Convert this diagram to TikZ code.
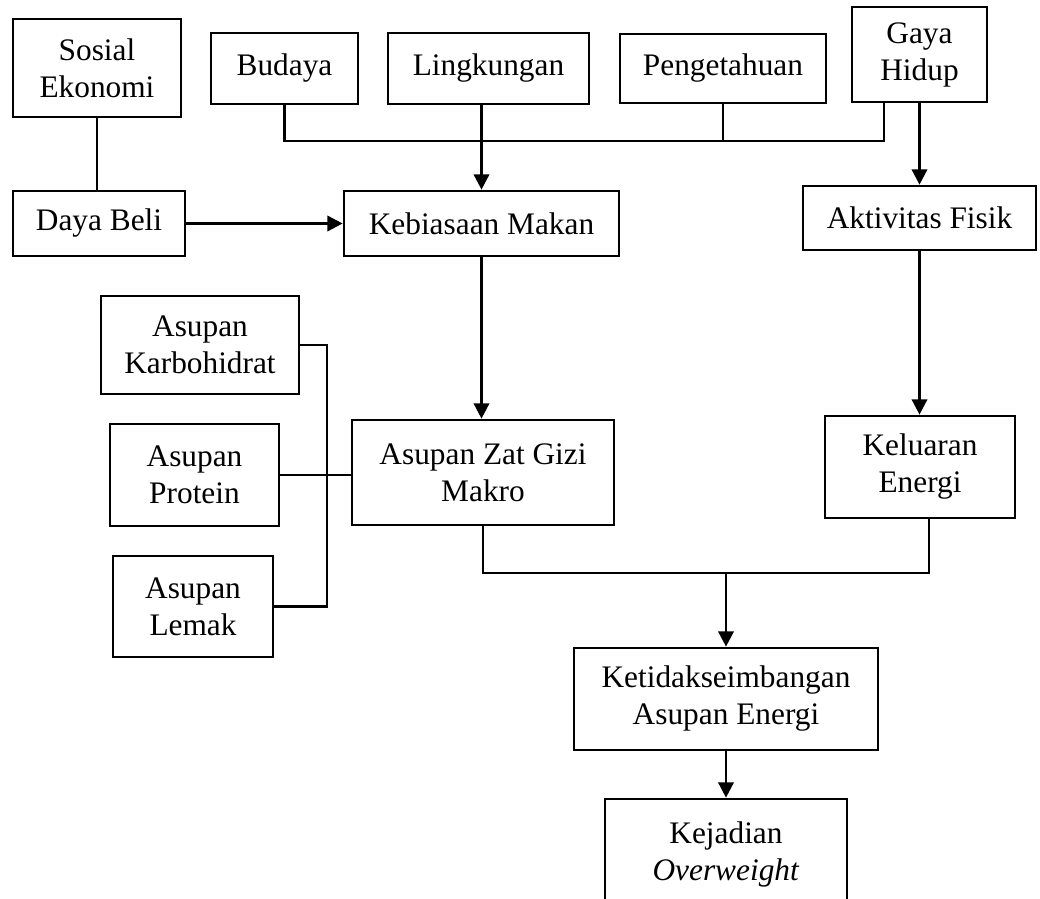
\documentclass[tikz,border=0pt]{standalone}
\usepackage{fontspec}
\setmainfont{Liberation Serif}
\usetikzlibrary{arrows.meta,calc}
\tikzset{
  kotak/.style={draw, line width=2pt, align=center, inner sep=0pt,
    font=\fontsize{23.5}{27.75}\selectfont},
  garis/.style={line width=2pt},
  panah/.style={line width=2pt, -{Triangle[length=11.5pt,width=11.5pt]}}
}
\begin{document}
\begin{tikzpicture}[x=0.75pt,y=-0.75pt]
  \useasboundingbox (0,0) rectangle (1040,899);

  % Kotak baris atas
  \node[kotak, minimum width=126pt, minimum height=73.5pt] (sosial) at (97,68) {Sosial\\Ekonomi};
  \node[kotak, minimum width=110.25pt, minimum height=53.25pt] (budaya) at (284.5,68.5) {Budaya};
  \node[kotak, minimum width=150.75pt, minimum height=53.25pt] (lingkungan) at (488.5,68.5) {Lingkungan};
  \node[kotak, minimum width=154.5pt, minimum height=51.75pt] (pengetahuan) at (723,68.5) {Pengetahuan};
  \node[kotak, minimum width=101.25pt, minimum height=71.25pt] (gaya) at (919.5,54.5) {Gaya\\Hidup};

  % Kotak tengah
  \node[kotak, minimum width=129pt, minimum height=48.75pt] (dayabeli) at (99,223.5) {Daya Beli};
  \node[kotak, minimum width=206.25pt, minimum height=48.75pt] (kebiasaan) at (481.5,223.5) {Kebiasaan Makan};
  \node[kotak, minimum width=174.75pt, minimum height=48pt] (aktivitas) at (919.5,218) {Aktivitas Fisik};

  % Asupan
  \node[kotak, minimum width=148.5pt, minimum height=73.5pt] (karbo) at (200,345) {Asupan\\Karbohidrat};
  \node[kotak, minimum width=126.75pt, minimum height=76.5pt] (protein) at (194.5,475) {Asupan\\Protein};
  \node[kotak, minimum width=120pt, minimum height=75.75pt] (lemak) at (193,606.5) {Asupan\\Lemak};
  \node[kotak, minimum width=196.5pt, minimum height=78.75pt] (gizi) at (483,472.5) {Asupan Zat Gizi\\Makro};
  \node[kotak, minimum width=142.5pt, minimum height=76.5pt] (keluaran) at (920,467) {Keluaran\\Energi};

  % Kotak bawah
  \node[kotak, minimum width=228pt, minimum height=76.5pt] (ketidak) at (726,699) {Ketidakseimbangan\\Asupan Energi};
  \node[kotak, minimum width=181.5pt, minimum height=82.5pt] (kejadian) at (726,854) {Kejadian\\\textit{Overweight}};

  % Garis penghubung atas
  \coordinate (atas) at (0,141);
  \coordinate (gstub) at ($(gaya.south)+(-35.5,0)$);
  \draw[garis] (sosial.south) -- (sosial.south |- dayabeli.north);
  \draw[garis] (budaya.south) |- (atas -| gstub) -- (gstub);
  \draw[garis] (pengetahuan.south) -- (pengetahuan.south |- atas);
  \draw[panah] (lingkungan.south -| kebiasaan.north) -- (kebiasaan.north);
  \draw[panah] (gaya.south) -- (aktivitas.north);
  \draw[panah] (dayabeli.east) -- (kebiasaan.west);

  % Garis penghubung tengah
  \coordinate (kiri) at (327,0);
  \draw[panah] (kebiasaan.south) -- (kebiasaan.south |- gizi.north);
  \draw[panah] (aktivitas.south) -- (aktivitas.south |- keluaran.north);
  \draw[garis] (karbo.east) -- (karbo.east -| kiri) -- (lemak.east -| kiri) -- (lemak.east);
  \draw[garis] (protein.east) -- (protein.east -| gizi.west);

  % Garis penghubung bawah
  \coordinate (bawah) at (0,573);
  \coordinate (kstub) at ($(keluaran.south)+(9,0)$);
  \draw[garis] (gizi.south) |- (bawah -| kstub) -- (kstub);
  \draw[panah] (bawah -| ketidak.north) -- (ketidak.north);
  \draw[panah] (ketidak.south) -- (kejadian.north);
\end{tikzpicture}
\end{document}
